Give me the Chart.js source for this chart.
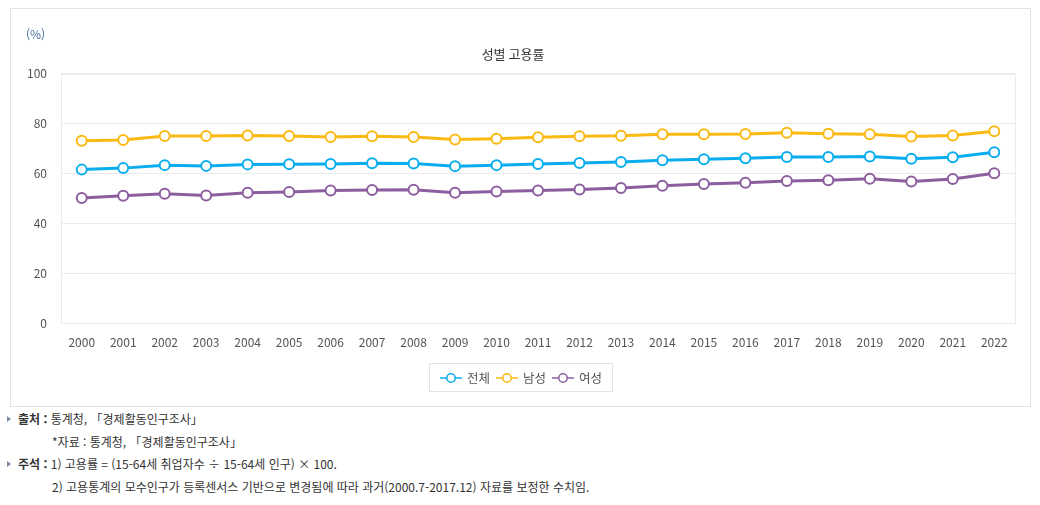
<!DOCTYPE html>
<html lang="ko">
<head>
<meta charset="utf-8">
<script src="https://cdn.jsdelivr.net/npm/chart.js@4"></script>
<style>
  body { margin: 0; background: #fff; font-family: "Noto Sans CJK KR", "Noto Sans", sans-serif; }
  #wrap { position: absolute; left: 10px; top: 8px; width: 1019px; height: 397px; border: 1px solid #e3e3e3; }
  #chart { position: absolute; left: 0; top: 0; }
  #unit { position: absolute; left: 15px; top: 16px; font-size: 12px; color: #4a6fa5; }
  #legend { position: absolute; left: 418px; top: 354px; height: 27px; width: 182px; border: 1px solid #e3e3e3;
            display: flex; align-items: center; justify-content: center; font-size: 12.5px; color: #555; }
  .item { display: flex; align-items: center; margin: 0 3px; }
  .item svg { margin-right: 5px; }
  .notes { position: absolute; left: 0; top: 408px; font-size: 12px; color: #333; line-height: 22.5px; }
  .row { position: relative; padding-left: 18px; white-space: nowrap; }
  .row.sub { padding-left: 52px; }
  .row .tri { position: absolute; left: 7px; top: 8px; width: 0; height: 0;
              border-top: 3px solid transparent; border-bottom: 3px solid transparent; border-left: 4px solid #7a8da8; }
  .row b { font-weight: bold; }
</style>
</head>
<body>
<div id="wrap">
  <canvas id="chart" width="1019" height="397"></canvas>
  <div id="unit">(%)</div>
  <div id="legend"></div>
</div>
<div class="notes">
  <div class="row"><span class="tri"></span><b>출처 :</b> 통계청, 「경제활동인구조사」</div>
  <div class="row sub">*자료 : 통계청, 「경제활동인구조사」</div>
  <div class="row"><span class="tri"></span><b>주석 :</b> 1) 고용률 = (15-64세 취업자수 ÷ 15-64세 인구) × 100.</div>
  <div class="row sub">2) 고용통계의 모수인구가 등록센서스 기반으로 변경됨에 따라 과거(2000.7-2017.12) 자료를 보정한 수치임.</div>
</div>
<script>
// 데이터
const years = ['2000','2001','2002','2003','2004','2005','2006','2007','2008','2009','2010','2011',
               '2012','2013','2014','2015','2016','2017','2018','2019','2020','2021','2022'];
const total  = [61.5, 62.1, 63.3, 63.0, 63.6, 63.7, 63.8, 64.1, 64.0, 62.9, 63.3, 63.8,
                64.2, 64.6, 65.3, 65.7, 66.1, 66.6, 66.6, 66.8, 65.9, 66.5, 68.5];
const male   = [73.1, 73.4, 75.0, 75.0, 75.2, 75.0, 74.6, 74.9, 74.6, 73.6, 73.9, 74.5,
                74.9, 75.1, 75.7, 75.7, 75.8, 76.3, 75.9, 75.7, 74.8, 75.2, 76.9];
const female = [50.1, 51.0, 51.8, 51.1, 52.2, 52.5, 53.1, 53.3, 53.4, 52.2, 52.7, 53.1,
                53.5, 54.1, 55.0, 55.7, 56.2, 56.9, 57.2, 57.8, 56.7, 57.7, 60.0];
const yTicks = [0, 20, 40, 60, 80, 100];

const seriesNames = ['전체', '남성', '여성'];
const colors = ['#0aaeef', '#fbb914', '#8d5e9f'];
const values = [total, male, female];

const datasets = values.map((v, i) => ({
    label: seriesNames[i],
    data: v,
    borderColor: colors[i],
    backgroundColor: '#fff',
    pointBackgroundColor: '#fff',
    pointBorderColor: colors[i],
    pointBorderWidth: 2,
    pointRadius: 5,
    borderWidth: 3,
    tension: 0
}));

// 범례 (HTML)
const legendEl = document.getElementById('legend');
seriesNames.forEach((n, i) => {
    const el = document.createElement('div');
    el.className = 'item';
    el.innerHTML = `<svg width="22" height="12"><line x1="0" y1="6" x2="22" y2="6" stroke="${colors[i]}" stroke-width="1.5"/>` +
        `<circle cx="11" cy="6" r="4.2" fill="#fff" stroke="${colors[i]}" stroke-width="1.5"/></svg>${n}`;
    legendEl.appendChild(el);
});

// 플롯 테두리
const plotBorder = {
    id: 'plotBorder',
    beforeDatasetsDraw(chart) {
        const a = chart.chartArea, ctx = chart.ctx;
        ctx.save();
        ctx.strokeStyle = '#ebebeb';
        ctx.lineWidth = 1;
        ctx.strokeRect(Math.round(a.left) + 0.5, Math.round(a.top) + 0.5,
                       Math.round(a.right - a.left), Math.round(a.bottom - a.top));
        ctx.restore();
    }
};

new Chart(document.getElementById('chart'), {
    type: 'line',
    data: { labels: years, datasets },
    plugins: [plotBorder],
    options: {
        responsive: false,
        animation: false,
        layout: { padding: { left: 0, right: 15, top: 0, bottom: 0 } },
        plugins: {
            legend: { display: false },
            tooltip: { enabled: false },
            title: {
                display: true,
                text: '성별 고용률',
                color: '#333',
                font: { family: '"Noto Sans CJK KR", sans-serif', size: 13, weight: 'normal' },
                padding: { top: 37, bottom: 12 }
            }
        },
        scales: {
            x: {
                offset: true,
                grid: { display: false, drawTicks: false },
                border: { display: false },
                ticks: { color: '#555', padding: 12, maxRotation: 0,
                         font: { family: '"Noto Sans CJK KR", sans-serif', size: 12 } },
                afterFit(s) { s.height = 83; }
            },
            y: {
                min: 0, max: 100,
                afterBuildTicks(s) { s.ticks = yTicks.map(v => ({ value: v })); },
                grid: { color: '#ebebeb', drawTicks: false },
                border: { display: false },
                ticks: { color: '#555', padding: 14,
                         font: { family: '"Noto Sans CJK KR", sans-serif', size: 12 } },
                afterFit(s) { s.width = 50; }
            }
        }
    }
});
</script>
</body>
</html>
